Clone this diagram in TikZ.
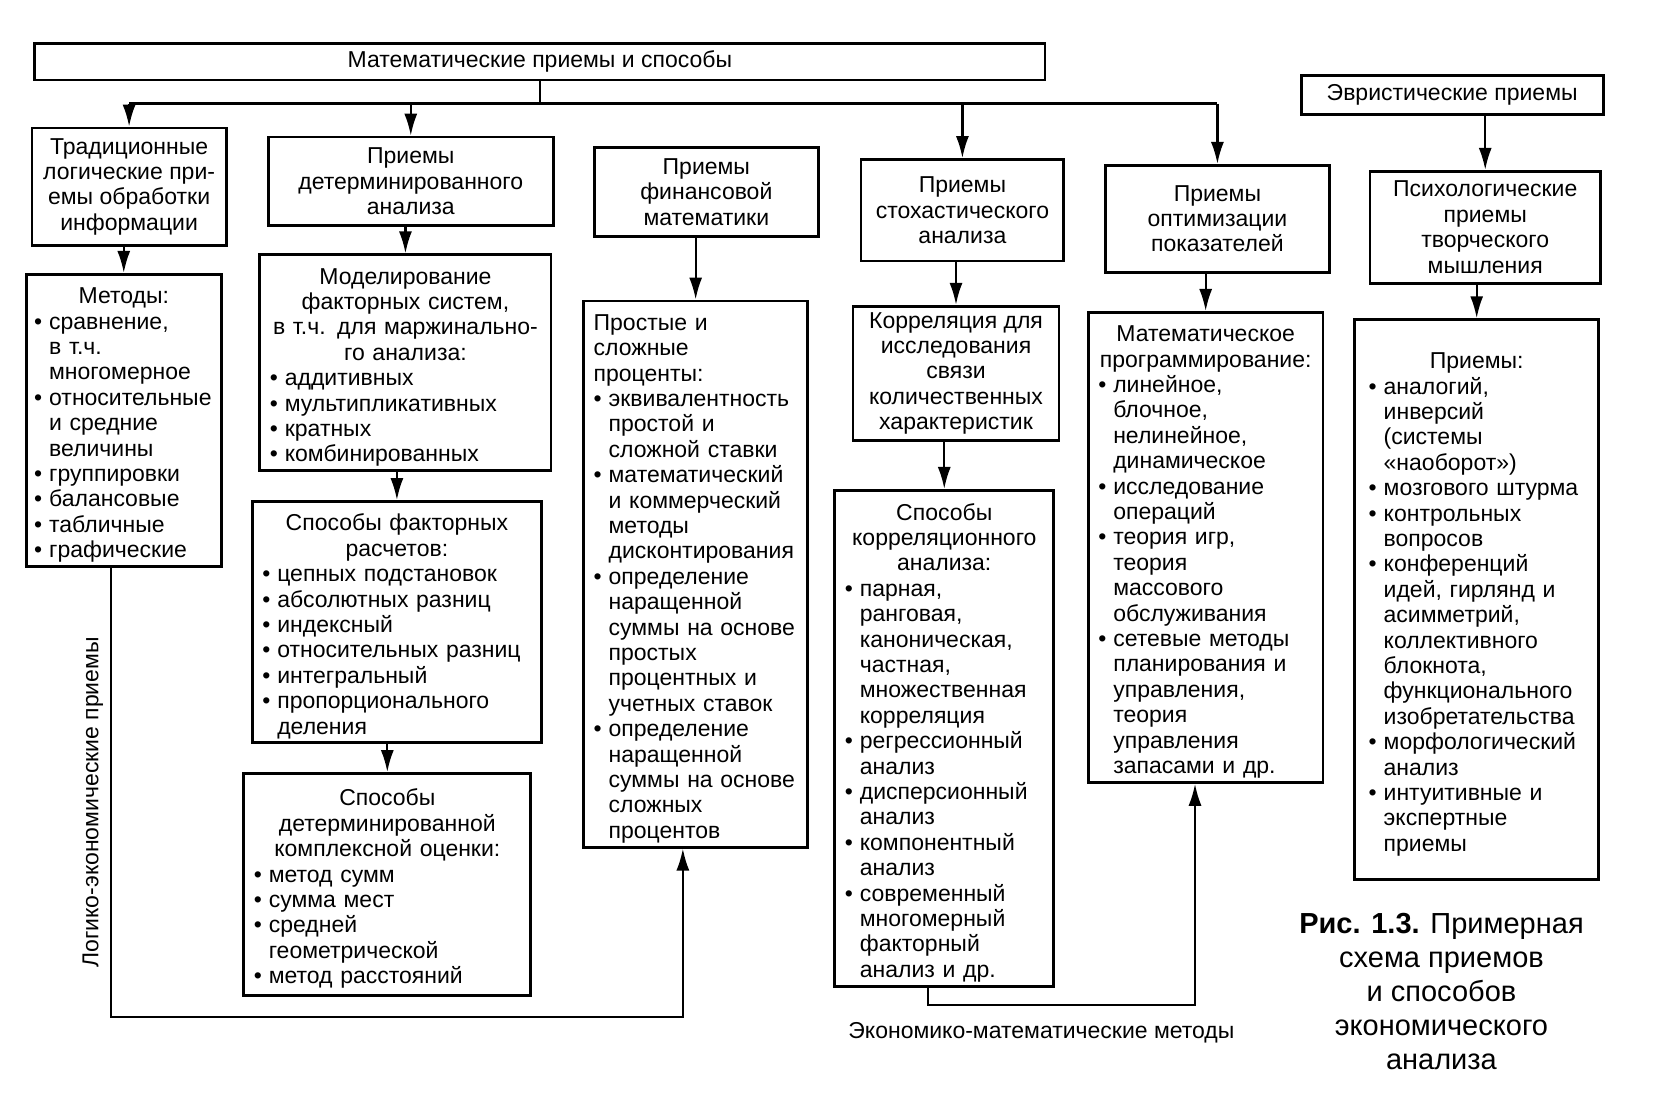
\documentclass[tikz,border=0pt]{standalone}
\usepackage{fontspec}
\setmainfont{Liberation Sans}
\usetikzlibrary{arrows.meta}
\newlength\bw \setlength\bw{7.5pt}
\newcommand\bitm[1]{\par\noindent\mbox{\makebox[\bw][l]{\textbullet}#1}}
\newcommand\cntl[1]{\par\noindent\mbox{\hspace*{\bw}#1}}
\newcommand\hdln[1]{\par\centerline{#1}}
\newcommand\plnl[1]{\par\noindent\mbox{#1}}
\newcommand\dfnt{\fontsize{11.5}{12.7}\selectfont}
\begin{document}
\begin{tikzpicture}[x=0.5335pt,y=-0.5335pt,
  bx/.style={draw, line width=1.4pt, inner sep=0pt, align=center, font=\dfnt},
  lbx/.style={draw, line width=1.4pt, inner xsep=5pt, inner ysep=2pt, font=\dfnt},
  conn/.style={line width=1.1pt},
  arr/.style={line width=1.1pt, -{Latex[length=11pt,width=6.5pt]}},
  lbl/.style={inner sep=0pt, font=\dfnt}]
\path[fill=white] (0,0) rectangle (1568,1037);
\useasboundingbox (0,0) rectangle (1568,1037);

% top level
\node[bx, minimum width=505.2pt, minimum height=18.1pt] (top) at (506,58) {Математические приемы и способы};
\node[bx, minimum width=151pt, minimum height=19.2pt] (heur) at (1361,89) {Эвристические приемы};

% second row
\node[bx, minimum width=97.1pt, minimum height=58.7pt] (trad) at (121,175) {Традиционные\\логические при-\\емы обработки\\информации};
\node[bx, minimum width=142.4pt, minimum height=44.3pt] (det) at (385,170) {Приемы\\детерминированного\\анализа};
\node[bx, minimum width=112pt, minimum height=44.3pt] (fin) at (662,180) {Приемы\\финансовой\\математики};
\node[bx, minimum width=101.4pt, minimum height=50.7pt] (stoch) at (902,197) {Приемы\\стохастического\\анализа};
\node[bx, minimum width=112pt, minimum height=53.4pt] (opt) at (1141,205) {Приемы\\оптимизации\\показателей};
\node[bx, minimum width=115.2pt, minimum height=56pt] (psy) at (1392,213) {Психологические\\приемы\\творческого\\мышления};

% third level
\node[lbx, inner xsep=4pt, minimum width=97.6pt, minimum height=145pt, text width=89.6pt] (methods) at (116,394) {%
\hdln{Методы:}
\bitm{сравнение,}
\cntl{в т.ч.}
\cntl{многомерное}
\bitm{относительные}
\cntl{и средние}
\cntl{величины}
\bitm{группировки}
\bitm{балансовые}
\bitm{табличные}
\bitm{графические}};

\node[lbx, minimum width=145.6pt, minimum height=106.7pt, text width=135.6pt] (model) at (380,340) {%
\hdln{Моделирование}
\hdln{факторных систем,}
\hdln{в т.ч. для маржинально-}
\hdln{го анализа:}
\bitm{аддитивных}
\bitm{мультипликативных}
\bitm{кратных}
\bitm{комбинированных}};

\node[lbx, minimum width=144.6pt, minimum height=120pt, text width=134.6pt] (calc) at (372,583) {%
\hdln{Способы факторных}
\hdln{расчетов:}
\bitm{цепных подстановок}
\bitm{абсолютных разниц}
\bitm{индексный}
\bitm{относительных разниц}
\bitm{интегральный}
\bitm{пропорционального}
\cntl{деления}};

\node[lbx, minimum width=143.5pt, minimum height=111pt, text width=133.5pt] (compl) at (363,829) {%
\hdln{Способы}
\hdln{детерминированной}
\hdln{комплексной оценки:}
\bitm{метод сумм}
\bitm{сумма мест}
\bitm{средней}
\cntl{геометрической}
\bitm{метод расстояний}};

\node[lbx, minimum width=112pt, minimum height=268pt, text width=102pt] (simple) at (652,538) {%
\plnl{Простые и}
\plnl{сложные}
\plnl{проценты:}
\bitm{эквивалентность}
\cntl{простой и}
\cntl{сложной ставки}
\bitm{математический}
\cntl{и коммерческий}
\cntl{методы}
\cntl{дисконтирования}
\bitm{определение}
\cntl{наращенной}
\cntl{суммы на основе}
\cntl{простых}
\cntl{процентных и}
\cntl{учетных ставок}
\bitm{определение}
\cntl{наращенной}
\cntl{суммы на основе}
\cntl{сложных}
\cntl{процентов}};

\node[bx, minimum width=103pt, minimum height=67.2pt] (corr) at (896,350) {Корреляция для\\исследования\\связи\\количественных\\характеристик};

\node[lbx, minimum width=109.4pt, minimum height=248pt, text width=99.4pt] (corrm) at (885,692) {%
\hdln{Способы}
\hdln{корреляционного}
\hdln{анализа:}
\bitm{парная,}
\cntl{ранговая,}
\cntl{каноническая,}
\cntl{частная,}
\cntl{множественная}
\cntl{корреляция}
\bitm{регрессионный}
\cntl{анализ}
\bitm{дисперсионный}
\cntl{анализ}
\bitm{компонентный}
\cntl{анализ}
\bitm{современный}
\cntl{многомерный}
\cntl{факторный}
\cntl{анализ и др.}};

\node[lbx, minimum width=117.4pt, minimum height=234.2pt, text width=107.4pt] (mathprog) at (1130,513) {%
\hdln{Математическое}
\hdln{программирование:}
\bitm{линейное,}
\cntl{блочное,}
\cntl{нелинейное,}
\cntl{динамическое}
\bitm{исследование}
\cntl{операций}
\bitm{теория игр,}
\cntl{теория}
\cntl{массового}
\cntl{обслуживания}
\bitm{сетевые методы}
\cntl{планирования и}
\cntl{управления,}
\cntl{теория}
\cntl{управления}
\cntl{запасами и др.}};

\node[lbx, inner xsep=7pt, minimum width=122pt, minimum height=280pt, text width=108pt] (tech) at (1384,562) {%
\hdln{Приемы:}
\bitm{аналогий,}
\cntl{инверсий}
\cntl{(системы}
\cntl{«наоборот»)}
\bitm{мозгового штурма}
\bitm{контрольных}
\cntl{вопросов}
\bitm{конференций}
\cntl{идей, гирлянд и}
\cntl{асимметрий,}
\cntl{коллективного}
\cntl{блокнота,}
\cntl{функционального}
\cntl{изобретательства}
\bitm{морфологический}
\cntl{анализ}
\bitm{интуитивные и}
\cntl{экспертные}
\cntl{приемы}};

% labels
\node[lbl, rotate=90] (lglabel) at (87,752) {Логико-экономические приемы};
\node[lbl] (eclabel) at (976,968) {Экономико-математические методы};
\node[inner sep=0pt, align=center, font=\fontsize{14.5}{17}\selectfont] (caption) at (1351,929)
  {\textbf{Рис. 1.3.} Примерная\\схема приемов\\и способов\\экономического\\анализа};

% bus from the top box
\coordinate (bus) at (506,97);
\draw[conn] (top.south) -- (bus);
\draw[conn] (trad.north |- bus) -- (opt.north |- bus);
\foreach \n in {trad,det,stoch,opt} \draw[arr] (\n.north |- bus) -- (\n.north);

% vertical arrows
\draw[arr] (psy.north |- heur.south) -- (psy.north);
\draw[arr] (methods.north |- trad.south) -- (methods.north);
\draw[arr] (model.north |- det.south) -- (model.north);
\draw[arr] (calc.north |- model.south) -- (calc.north);
\draw[arr] (compl.north |- calc.south) -- (compl.north);
\draw[arr] (simple.north |- fin.south) -- (simple.north);
\draw[arr] (corr.north |- stoch.south) -- (corr.north);
\draw[arr] (corrm.north |- corr.south) -- (corrm.north);
\draw[arr] (mathprog.north |- opt.south) -- (mathprog.north);
\draw[arr] (tech.north |- psy.south) -- (tech.north);

% bottom loops
\coordinate (lgl) at (104,953);
\coordinate (lgr) at (640,953);
\draw[arr] (methods.south -| lgl) -- (lgl) -- (lgr) -- (lgr |- simple.south);
\coordinate (ecl) at (870,942);
\coordinate (ecr) at (1120,942);
\draw[arr] (corrm.south -| ecl) -- (ecl) -- (ecr) -- (ecr |- mathprog.south);
\end{tikzpicture}
\end{document}
